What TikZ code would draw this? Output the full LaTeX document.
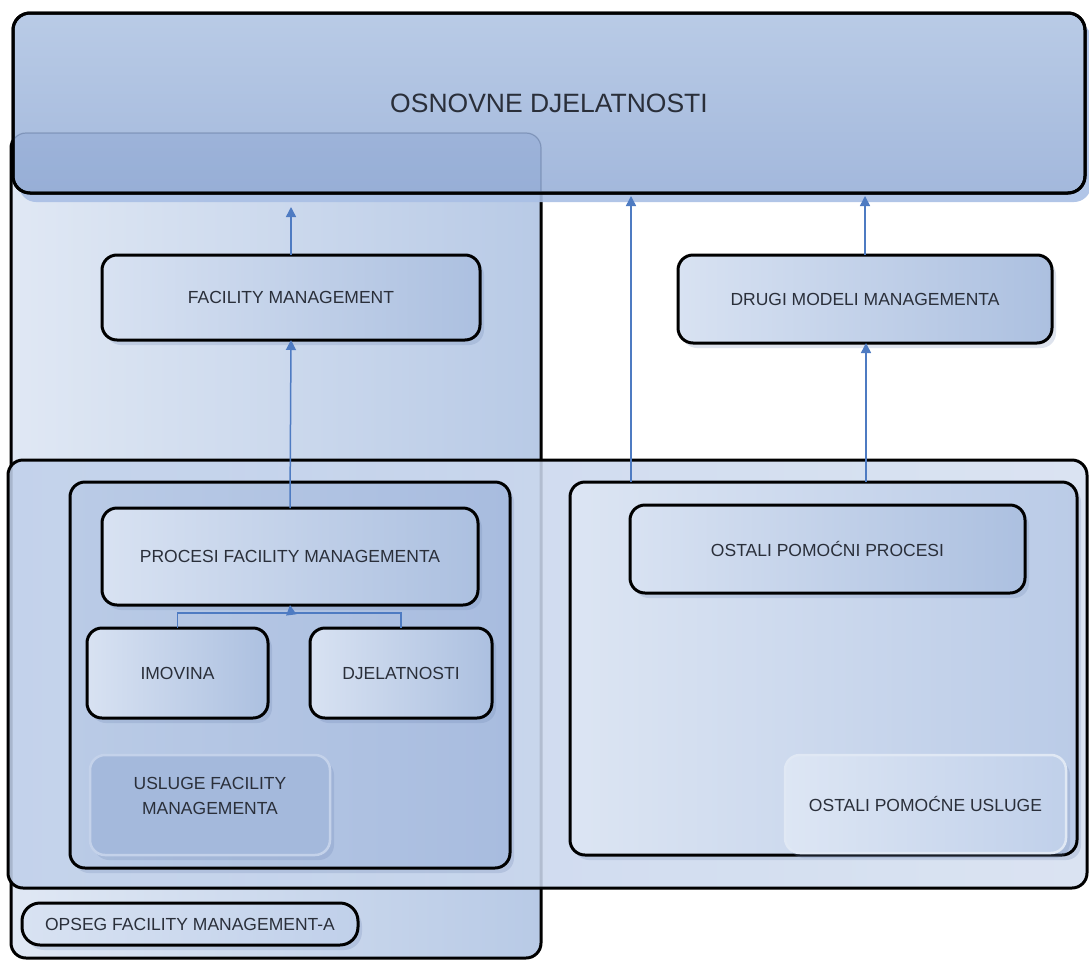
\documentclass[tikz,border=0pt]{standalone}
\usepackage{fontspec}
\setmainfont{Liberation Sans}
\usetikzlibrary{arrows.meta,shadows,calc}
\definecolor{txt}{HTML}{2A2F3A}
\definecolor{arr}{HTML}{4E7BC2}
\definecolor{topA}{HTML}{B9CBE6}
\definecolor{topB}{HTML}{A3B8DC}
\definecolor{topSh}{HTML}{A9BFE5}
\definecolor{colA}{HTML}{E0E8F4}
\definecolor{colB}{HTML}{B8CAE6}
\definecolor{ovl}{HTML}{6F8EC4}
\definecolor{bigA}{HTML}{C0D0EA}
\definecolor{bigB}{HTML}{D6E0F1}
\definecolor{fmA}{HTML}{BACBE6}
\definecolor{fmB}{HTML}{A8BCDF}
\definecolor{rA}{HTML}{DCE5F3}
\definecolor{rB}{HTML}{BACBE7}
\definecolor{sA}{HTML}{D8E2F2}
\definecolor{sB}{HTML}{ACC0E0}
\definecolor{uslF}{HTML}{A4B9DC}
\definecolor{uslD}{HTML}{C4D2EA}
\definecolor{ouA}{HTML}{DDE6F4}
\definecolor{ouB}{HTML}{C0D0EA}
\definecolor{ouD}{HTML}{E0E8F4}
\definecolor{shd}{HTML}{6A82B0}
\begin{document}
\begin{tikzpicture}[x=1pt,y=-1pt,
  frame/.style={rectangle, rounded corners=15pt, draw=black, line width=3pt,
    outer sep=0pt, inner sep=0pt, text=txt, align=center,
    font=\fontsize{17.5}{25}\selectfont},
  softshadow/.style={drop shadow={shadow xshift=4pt, shadow yshift=-5pt, opacity=0.22, fill=shd}},
  smallbox/.style={frame, left color=sA, right color=sB, softshadow},
  link/.style={draw=arr, line width=1.5pt},
  linkarrow/.style={link, -{Triangle[width=10pt,length=10pt]}},
]
\useasboundingbox (0,0) rectangle (1089,964);
\fill[white] (0,0) rectangle (1089,964);

% scope column of facility management
\node[frame, left color=colA, right color=colB, minimum width=530pt, minimum height=825pt]
  (col) at (276,545.5) {};

% top box
\node[frame, top color=topA, bottom color=topB, minimum width=1072pt, minimum height=180pt,
  rounded corners=17pt,
  drop shadow={shadow xshift=6pt, shadow yshift=-9pt, opacity=0.9, fill=topSh},
  font=\fontsize{26.5}{30}\selectfont]
  (top) at (549,103) {OSNOVNE DJELATNOSTI};
\begin{scope}
  \clip[rounded corners=17pt] (top.south west) rectangle (top.north east);
  \draw[rounded corners=15pt, fill=ovl, fill opacity=0.22, draw=ovl!70!black, draw opacity=0.4, line width=1.2pt]
    (col.south west) rectangle (col.north east);
\end{scope}
\draw[rounded corners=17pt, line width=3pt] (top.south west) rectangle (top.north east);

% large lower box
\node[frame, left color=bigA, right color=bigB, fill opacity=0.88, minimum width=1079pt, minimum height=428pt]
  (big) at (547.5,674) {};

% inner boxes
\node[frame, left color=fmA, right color=fmB, minimum width=440pt, minimum height=386pt, softshadow]
  (fmin) at (290,675) {};
\node[frame, left color=rA, right color=rB, minimum width=507pt, minimum height=373pt, softshadow]
  (rin) at (823.5,668.5) {};

% small boxes
\node[smallbox, minimum width=378pt, minimum height=85pt] (fm) at (291,297.5) {FACILITY MANAGEMENT};
\node[smallbox, minimum width=374pt, minimum height=88pt] (drugi) at (865,299) {DRUGI MODELI MANAGEMENTA};
\node[smallbox, minimum width=376pt, minimum height=97pt] (proc) at (290,556.5) {PROCESI FACILITY MANAGEMENTA};
\node[smallbox, minimum width=181pt, minimum height=90pt] (imov) at (177.5,673) {IMOVINA};
\node[smallbox, minimum width=182pt, minimum height=90pt] (djel) at (401,673) {DJELATNOSTI};
\node[smallbox, minimum width=395pt, minimum height=88pt] (ostp) at (827.5,549) {OSTALI POMOĆNI PROCESI};

\node[frame, draw=uslD, line width=2.5pt, fill=uslF, minimum width=240pt, minimum height=100pt, softshadow]
  (usl) at (210,805) {USLUGE FACILITY\\MANAGEMENTA\\[-6pt]};
\node[frame, draw=ouD, line width=2.5pt, left color=ouA, right color=ouB, minimum width=281pt, minimum height=98pt, softshadow]
  (ostu) at (925.5,804) {OSTALI POMOĆNE USLUGE};
\node[frame, left color=sA, right color=bigA, minimum width=336pt, minimum height=42pt,
  rounded corners=18pt, softshadow]
  (opseg) at (190,924) {OPSEG FACILITY MANAGEMENT-A};

% connectors
\draw[linkarrow, shorten >=14pt] (fm.north) -- (fm.north |- top.south);
\draw[linkarrow] (proc.north) -- (fm.south);
\coordinate (j) at (291,613);
\draw[link] (imov.north) |- (j) -| (djel.north);
\draw[linkarrow] (j) -- (proc.south);
\coordinate (r1) at (631,482);
\draw[linkarrow, shorten >=3pt] (r1) -- (r1 |- top.south);
\coordinate (r2) at (866,482);
\draw[linkarrow] (r2) -- (r2 |- drugi.south);
\draw[linkarrow, shorten >=3pt] (drugi.north) -- (drugi.north |- top.south);
\end{tikzpicture}
\end{document}
